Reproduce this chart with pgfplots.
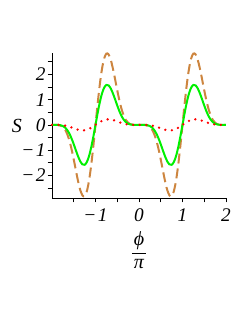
\documentclass[border=0pt]{standalone}
\usepackage{pgfplots}
\usepackage{pgfplotstable}
\pgfplotsset{compat=1.18}
\usepackage{fontspec}
\setmainfont{Liberation Serif}
\definecolor{peru}{RGB}{205,133,63}
\definecolor{lime}{RGB}{0,240,0}
\newcommand{\phipi}{\vbox{\hbox to 10pt{\hss\textit{\char"03D5}\hss}\kern2pt\hrule height 0.6pt\kern4pt\hbox to 10pt{\hss\textit{\char"03C0}\hss}}}
\pgfplotstableread{
x g b r
-2.00 0 0 0
-1.95 0 -0.0001 0
-1.90 -0.0006 -0.0010 -0.0005
-1.85 -0.0041 -0.0074 -0.0022
-1.80 -0.0165 -0.0294 -0.0067
-1.75 -0.0466 -0.0832 -0.0152
-1.70 -0.1056 -0.1886 -0.0291
-1.65 -0.2040 -0.3644 -0.0488
-1.60 -0.3487 -0.6228 -0.0742
-1.55 -0.5398 -0.9642 -0.1040
-1.50 -0.7680 -1.3717 -0.1359
-1.45 -1.0143 -1.8116 -0.1669
-1.40 -1.2513 -2.2351 -0.1935
-1.35 -1.4464 -2.5835 -0.2123
-1.30 -1.5662 -2.7974 -0.2199
-1.25 -1.5824 -2.8264 -0.2143
-1.20 -1.4771 -2.6384 -0.1943
-1.15 -1.2467 -2.2268 -0.1604
-1.10 -0.9033 -1.6134 -0.1144
-1.05 -0.4745 -0.8475 -0.0596
-1.00 0 0 0
-0.95 0.4745 0.8475 0.0596
-0.90 0.9033 1.6134 0.1144
-0.85 1.2467 2.2268 0.1604
-0.80 1.4771 2.6384 0.1943
-0.75 1.5824 2.8264 0.2143
-0.70 1.5662 2.7974 0.2199
-0.65 1.4464 2.5835 0.2123
-0.60 1.2513 2.2351 0.1935
-0.55 1.0143 1.8116 0.1669
-0.50 0.7680 1.3717 0.1359
-0.45 0.5398 0.9642 0.1040
-0.40 0.3487 0.6228 0.0742
-0.35 0.2040 0.3644 0.0488
-0.30 0.1056 0.1886 0.0291
-0.25 0.0466 0.0832 0.0152
-0.20 0.0165 0.0294 0.0067
-0.15 0.0041 0.0074 0.0022
-0.10 0.0006 0.0010 0.0005
-0.05 0 0.0001 0
0.00 0 0 0
0.05 0 -0.0001 0
0.10 -0.0006 -0.0010 -0.0005
0.15 -0.0041 -0.0074 -0.0022
0.20 -0.0165 -0.0294 -0.0067
0.25 -0.0466 -0.0832 -0.0152
0.30 -0.1056 -0.1886 -0.0291
0.35 -0.2040 -0.3644 -0.0488
0.40 -0.3487 -0.6228 -0.0742
0.45 -0.5398 -0.9642 -0.1040
0.50 -0.7680 -1.3717 -0.1359
0.55 -1.0143 -1.8116 -0.1669
0.60 -1.2513 -2.2351 -0.1935
0.65 -1.4464 -2.5835 -0.2123
0.70 -1.5662 -2.7974 -0.2199
0.75 -1.5824 -2.8264 -0.2143
0.80 -1.4771 -2.6384 -0.1943
0.85 -1.2467 -2.2268 -0.1604
0.90 -0.9033 -1.6134 -0.1144
0.95 -0.4745 -0.8475 -0.0596
1.00 0 0 0
1.05 0.4745 0.8475 0.0596
1.10 0.9033 1.6134 0.1144
1.15 1.2467 2.2268 0.1604
1.20 1.4771 2.6384 0.1943
1.25 1.5824 2.8264 0.2143
1.30 1.5662 2.7974 0.2199
1.35 1.4464 2.5835 0.2123
1.40 1.2513 2.2351 0.1935
1.45 1.0143 1.8116 0.1669
1.50 0.7680 1.3717 0.1359
1.55 0.5398 0.9642 0.1040
1.60 0.3487 0.6228 0.0742
1.65 0.2040 0.3644 0.0488
1.70 0.1056 0.1886 0.0291
1.75 0.0466 0.0832 0.0152
1.80 0.0165 0.0294 0.0067
1.85 0.0041 0.0074 0.0022
1.90 0.0006 0.0010 0.0005
1.95 0 0.0001 0
2.00 0 0 0
}\data
\begin{document}
\begin{tikzpicture}
\useasboundingbox (-36.4pt,-87.5pt) rectangle (137.9pt,138.6pt);
\begin{axis}[
  at={(0,0)}, anchor=south west,
  scale only axis, width=121.8pt, height=101.5pt,
  xmin=-2, xmax=2, ymin=-2.9, ymax=2.85,
  axis x line*=bottom, axis y line*=left,
  axis line style={black, line width=0.6pt},
  tick align=outside,
  tick style={black, line width=0.5pt},
  major tick length=3pt, minor tick length=3pt,
  xtick={-1,0,1,2}, minor xtick={-1.5,-0.5,0.5,1.5},
  ytick={-2,-1,0,1,2}, minor ytick={-2.5,-1.5,-0.5,0.5,1.5,2.5},
  xticklabels={\textit{\char"2212\kern1pt 1},\textit{0},\textit{1},\textit{2}},
  yticklabels={\textit{\char"2212\kern1pt 2},\textit{\char"2212\kern1pt 1},\textit{0},\textit{1},\textit{2}},
  ticklabel style={font=\fontsize{13.5}{15}\selectfont},
  xticklabel style={yshift=-1pt},
  yticklabel style={xshift=2pt},
  xlabel={\phipi},
  xlabel style={font=\fontsize{14}{16}\selectfont, at={(axis description cs:0.5,0)}, anchor=north, inner sep=0pt, yshift=-23.5pt},
  ylabel={\textit{S}},
  ylabel style={rotate=-90, font=\fontsize{14}{16}\selectfont, at={(axis description cs:0,0.5)}, anchor=center, xshift=-24.5pt},
  clip=false,
]
\addplot[peru, line width=1.4pt, dash pattern=on 7pt off 3.5pt, smooth] table[x=x,y=b] {\data};
\addplot[lime, line width=1.4pt, smooth] table[x=x,y=g] {\data};
\addplot[red, line width=1.8pt, dash pattern=on 0pt off 4.6pt, line cap=round, smooth] table[x=x,y=r] {\data};
\end{axis}
\end{tikzpicture}
\end{document}
